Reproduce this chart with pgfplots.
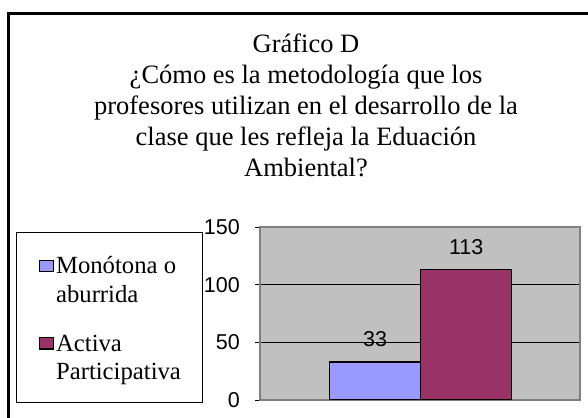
\documentclass[border=0pt]{standalone}
\usepackage{fontspec}
\setmainfont{Liberation Serif}
\newfontfamily\arial{Liberation Sans}
\usepackage{pgfplots}
\pgfplotsset{compat=1.18}
\definecolor{barblue}{HTML}{9999FF}
\definecolor{barred}{HTML}{993366}
\definecolor{plotbg}{HTML}{C0C0C0}
\definecolor{plotborder}{HTML}{808080}
\begin{document}
\begin{tikzpicture}[x=1pt,y=1pt]
\useasboundingbox (0,0) rectangle (588,417);
\begin{scope}
\clip (0,0) rectangle (588,417);
\draw[line width=2.7pt] (8.7,-5) -- (8.7,403.5) -- (600,403.5);
\end{scope}
\node[align=center, anchor=north, inner sep=0pt, font=\fontsize{26.5}{31}\selectfont] at (306,386)
  {\strut Gráfico D\\ ¿Cómo es la metodología que los\\ profesores utilizan en el desarrollo de la\\ clase que les refleja la Eduación\\ Ambiental?};
\draw[line width=1pt] (16.7,14.3) rectangle (202.7,184);
\begin{axis}[
  at={(260pt,17pt)}, anchor=south west, scale only axis,
  width=320pt, height=173pt,
  xmin=-1.004, xmax=0.996, ymin=0, ymax=150,
  ybar=0pt, bar width=91pt,
  xtick=\empty, ytick={0,50,100,150}, ytick pos=left,
  tick align=outside, major tick length=5pt,
  tick style={black, line width=0.8pt},
  axis line style={draw=plotborder, line width=1.5pt},
  axis background/.style={fill=plotbg},
  ymajorgrids, major grid style={black, line width=0.8pt},
  /pgf/number format/assume math mode=true,
  yticklabel style={font=\arial\fontsize{21.5}{21.5}\selectfont, inner sep=0pt, anchor=east, xshift=-15pt},
  nodes near coords,
  every node near coord/.append style={anchor=center, yshift=22.5pt, inner sep=0pt, font=\arial\fontsize{21.5}{21.5}\selectfont, black},
  legend style={at={(axis description cs:-0.6916,0.8457)}, anchor=north west, draw=none, fill=none,
    inner sep=0pt, row sep=27.3pt, column sep=2pt,
    font=\fontsize{24.7}{28.3}\selectfont,
    cells={anchor=north west},
    nodes={inner sep=0pt, align=left, anchor=north west}},
  legend image code/.code={\draw[#1, line width=1.2pt] (0pt,-18pt) rectangle (14pt,-6.3pt);},
]
\addplot[fill=barblue, draw=black, line width=1.5pt] coordinates {(0,33)};
\addlegendentry{\strut Monótona o\\\strut aburrida}
\addplot[fill=barred, draw=black, line width=1.5pt] coordinates {(0,113)};
\addlegendentry{\strut Activa\\\strut Participativa}
\end{axis}
\end{tikzpicture}
\end{document}
